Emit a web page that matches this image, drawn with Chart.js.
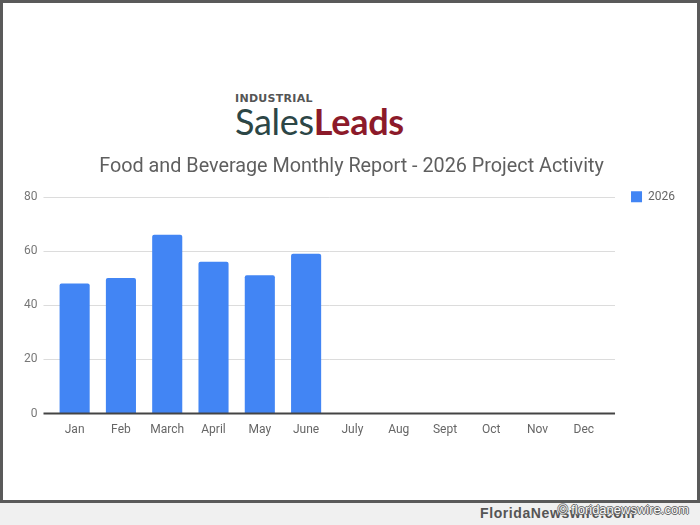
<!DOCTYPE html>
<html>
<head>
<meta charset="utf-8">
<script src="https://cdn.jsdelivr.net/npm/chart.js@4"></script>
<style>
  html, body { margin: 0; padding: 0; }
  body { width: 700px; height: 525px; background: #f0f0f0; position: relative; overflow: hidden; font-family: Roboto, sans-serif; }
  #frame { position: absolute; left: 0; top: 0; width: 694px; height: 497px; background: #fff; border: 3px solid #5a5a5a; }
  #logo { position: absolute; left: 235px; top: 92px; }
  #logo .small { font: bold 11px "DejaVu Sans", sans-serif; color: #555; letter-spacing: 0.3px; }
  #logo .big { font: 36px Lato, sans-serif; line-height: 36px; margin-top: -2px; letter-spacing: -0.3px; }
  #logo .sales { color: #2c4646; }
  #logo .leads { color: #8c1a2a; font-weight: bold; }
  #wrap { position: absolute; left: 3px; top: 150px; width: 694px; height: 300px; }
  #wm { position: absolute; left: 480px; top: 505px; font: bold 14px "Liberation Sans", sans-serif; color: #555; letter-spacing: 0.6px; }
  #wm2 { position: absolute; left: 558px; top: 502px; font: 13px "Liberation Sans", sans-serif; color: #fafafa;
         text-shadow: 1px 0 0 #666, -1px 0 0 #666, 0 1px 0 #666, 0 -1px 0 #666; }
</style>
</head>
<body>
<div id="frame"></div>
<div id="logo">
  <div class="small">INDUSTRIAL</div>
  <div class="big"><span class="sales">Sales</span><span class="leads">Leads</span></div>
</div>
<div id="wrap"><canvas id="chart"></canvas></div>
<div id="wm">FloridaNewswire.com</div>
<div id="wm2">© floridanewswire.com</div>

<script>
// ─── Data ─────────────────────────────────────────────────────────────────────

const months = ['Jan', 'Feb', 'March', 'April', 'May', 'June', 'July', 'Aug', 'Sept', 'Oct', 'Nov', 'Dec'];
const projects2026 = [48, 50, 66, 56, 51, 59, null, null, null, null, null, null];
const yTicks = [0, 20, 40, 60, 80];

// ─── Gridlines drawn a bit wider than the plot, like Google Charts ────────────

const wideGrid = {
  id: 'wideGrid',
  afterLayout(chart) {
    // Line the legend entry up with the top gridline
    const lg = chart.legend;
    const shift = lg.top - (chart.chartArea.top - lg.options.labels.padding - 6);
    lg.top -= shift;
    lg.bottom -= shift;
  },
  beforeDatasetsDraw(chart) {
    const { ctx, chartArea, scales } = chart;
    ctx.save();
    for (const v of yTicks) {
      if (v === 0) continue;
      const y = Math.round(scales.y.getPixelForValue(v));
      ctx.strokeStyle = '#dcdcdc';
      ctx.lineWidth = 1;
      ctx.beginPath();
      ctx.moveTo(chartArea.left - 8, y + 0.5);
      ctx.lineTo(chartArea.right + 8, y + 0.5);
      ctx.stroke();
    }
    ctx.restore();
  },
  afterDatasetsDraw(chart) {
    const { ctx, chartArea, scales } = chart;
    const y = scales.y.getPixelForValue(0);
    ctx.save();
    ctx.strokeStyle = '#444';
    ctx.lineWidth = 2;
    ctx.beginPath();
    ctx.moveTo(chartArea.left - 8, y);
    ctx.lineTo(chartArea.right + 8, y);
    ctx.stroke();
    ctx.restore();
  },
};

// ─── Chart ────────────────────────────────────────────────────────────────────

new Chart(document.getElementById('chart'), {
  type: 'bar',
  data: {
    labels: months,
    datasets: [{
      label: '2026',
      data: projects2026,
      backgroundColor: '#4285f4',
      barPercentage: 0.65,
      categoryPercentage: 1,
      borderRadius: 2,
    }],
  },
  options: {
    responsive: true,
    maintainAspectRatio: false,
    animation: false,
    layout: { padding: { left: 15, right: 12, bottom: 12 } },
    plugins: {
      title: {
        display: true,
        text: 'Food and Beverage Monthly Report - 2026 Project Activity',
        color: '#5f5f5f',
        font: { family: 'Roboto', size: 19.8, weight: 'normal' },
        padding: { top: 5, bottom: 18 },
      },
      legend: {
        position: 'right',
        align: 'start',
        fullSize: false,
        labels: {
          color: '#666',
          font: { family: 'Roboto', size: 12 },
          boxWidth: 11,
          boxHeight: 11,
          padding: 24,
        },
      },
      tooltip: { enabled: false },
    },
    scales: {
      x: {
        grid: { display: false },
        border: { display: false },
        ticks: { color: '#666', font: { family: 'Roboto', size: 12 }, padding: 1, maxRotation: 0, autoSkip: false },
      },
      y: {
        min: 0,
        max: 80,
        afterBuildTicks: (axis) => { axis.ticks = yTicks.map((v) => ({ value: v })); },
        grid: { display: false },
        border: { display: false },
        ticks: { color: '#777', font: { family: 'Roboto', size: 12 }, padding: 6 },
      },
    },
  },
  plugins: [wideGrid],
});
</script>
</body>
</html>
